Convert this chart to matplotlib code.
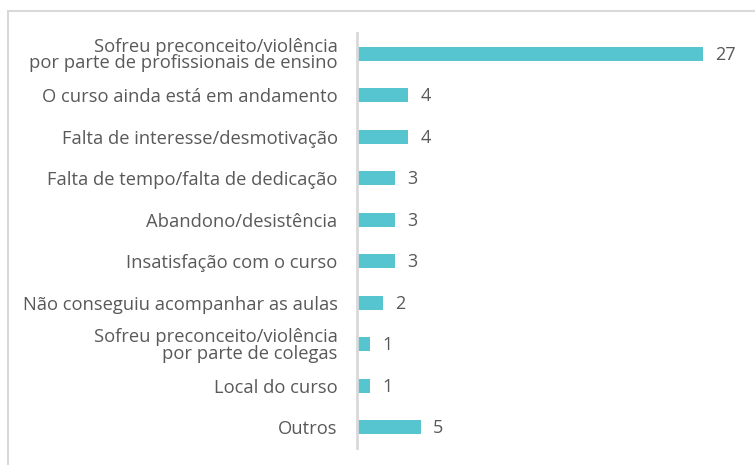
import matplotlib
matplotlib.use("Agg")
import matplotlib.pyplot as plt
from matplotlib.patches import Rectangle

categorias = [
    "Sofreu preconceito/violência\npor parte de profissionais de ensino",
    "O curso ainda está em andamento",
    "Falta de interesse/desmotivação",
    "Falta de tempo/falta de dedicação",
    "Abandono/desistência",
    "Insatisfação com o curso",
    "Não conseguiu acompanhar as aulas",
    "Sofreu preconceito/violência\npor parte de colegas",
    "Local do curso",
    "Outros",
]
valores = [27, 4, 4, 3, 3, 3, 2, 1, 1, 5]

cor_barra = "#56C5D0"
cor_texto = "#595959"
plt.rcParams["font.family"] = ["Open Sans", "DejaVu Sans"]

fig = plt.figure(figsize=(7.55, 4.65), dpi=100)
# moldura cinza clara (cortada à direita e embaixo)
fig.patches.append(Rectangle((8 / 755, -0.1), 1.2, (465 - 11) / 465 + 0.1,
                             transform=fig.transFigure, fill=False,
                             edgecolor="#D9D9D9", linewidth=1.5))

ax = fig.add_axes([357 / 755, 17 / 465, 398 / 755, 415 / 465])
y = list(range(len(categorias)))
ax.barh(y, valores, height=0.34, color=cor_barra)
ax.set_ylim(len(categorias) - 0.5, -0.5)
ax.set_xlim(0, 398 / 12.81)

ax.set_yticks(y)
ax.set_yticklabels(categorias, fontsize=13.2, color=cor_texto, linespacing=0.9)
ax.tick_params(axis="y", length=0, pad=14)
ax.set_xticks([])

for s in ["top", "right", "bottom"]:
    ax.spines[s].set_visible(False)
ax.spines["left"].set_color("#D9D9D9")
ax.spines["left"].set_linewidth(2)

for yi, v in zip(y, valores):
    ax.text(v + 0.95, yi + 0.03, str(v), va="center", ha="left", fontsize=13, color=cor_texto)

fig.savefig("out.png", dpi=100)
